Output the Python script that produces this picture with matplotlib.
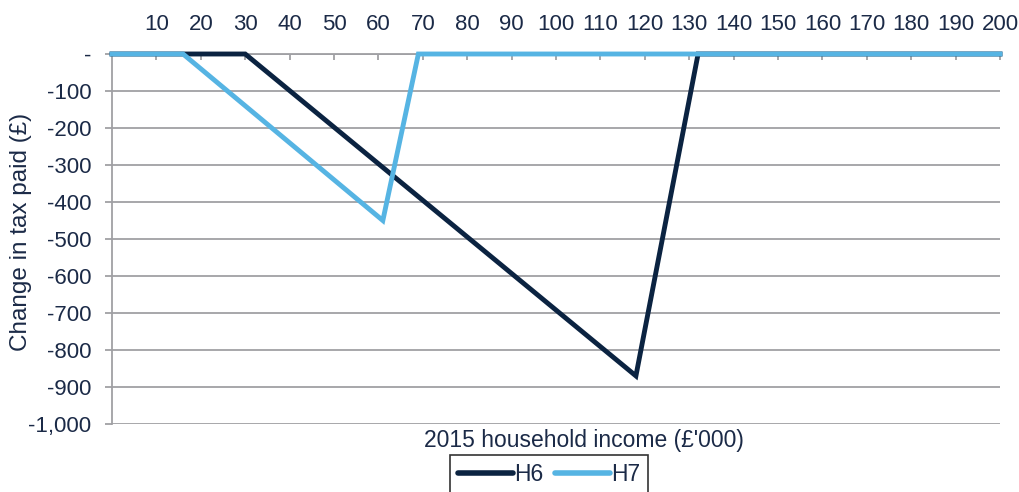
import matplotlib.pyplot as plt
from matplotlib.ticker import FuncFormatter

plt.rcParams['font.family'] = ['Liberation Sans', 'DejaVu Sans']

# income (£'000) breakpoints and change in tax paid (£)
h6_income = [0, 30, 118, 132, 200]
h6_change = [0, 0, -870, 0, 0]
h7_income = [0, 16, 61, 69, 200]
h7_change = [0, 0, -450, 0, 0]
xticks = list(range(10, 201, 10))
yticks = list(range(-1000, 1, 100))

dark = '#0b2341'
light = '#56b4e3'
txt = '#1b2a47'
grey = '#a0a0a4'

fig = plt.figure(figsize=(10.2, 4.92), dpi=100)
ax = fig.add_axes([112/1020, 1-424/492, 888/1020, 370/492])

ax.plot(h6_income, h6_change, color=dark, lw=3.5, label='H6', solid_joinstyle='miter',
        clip_on=False, zorder=3)
ax.plot(h7_income, h7_change, color=light, lw=3.5, label='H7', solid_joinstyle='miter',
        clip_on=False, zorder=4)

ax.set_xlim(0, 200)
ax.set_ylim(-1000, 0)
ax.set_xticks(xticks)
ax.set_yticks(yticks)
ax.yaxis.set_major_formatter(FuncFormatter(lambda v, p: '-' if v == 0 else f'{v:,.0f}'))
ax.xaxis.tick_top()
ax.tick_params(axis='x', direction='in', length=4.5, width=1.3, color=grey,
               labelsize=16, labelcolor=txt, pad=14)
ax.tick_params(axis='y', direction='out', length=5, width=1.3, color=grey,
               labelsize=16, labelcolor=txt, pad=10)
ax.grid(axis='y', color=grey, lw=1.3)
ax.set_axisbelow(True)
for s in ['bottom', 'right']:
    ax.spines[s].set_visible(False)
for s in ['top', 'left']:
    ax.spines[s].set_color(grey)
    ax.spines[s].set_linewidth(1.3)
    ax.spines[s].set_zorder(2)

fig.text(21/1020, 1-232/492, 'Change in tax paid (£)', fontsize=17.5, color=txt,
         rotation=90, ha='center', va='center')
fig.text(584/1020, 1-440/492, "2015 household income (£'000)", fontsize=16.5, color=txt,
         ha='center', va='center')

leg = fig.legend(loc='upper center', bbox_to_anchor=(549/1020, 1-455/492), ncol=2,
                 fontsize=16.5, frameon=True, fancybox=False, edgecolor='black',
                 handlelength=2.4, handletextpad=0.05, columnspacing=0.5,
                 borderpad=0.35, borderaxespad=0)
leg.get_frame().set_linewidth(1.2)
for t in leg.get_texts():
    t.set_color(txt)
for h in leg.get_lines():
    h.set_linewidth(4)
    h.set_solid_capstyle('round')

fig.savefig('out.png', dpi=100)
